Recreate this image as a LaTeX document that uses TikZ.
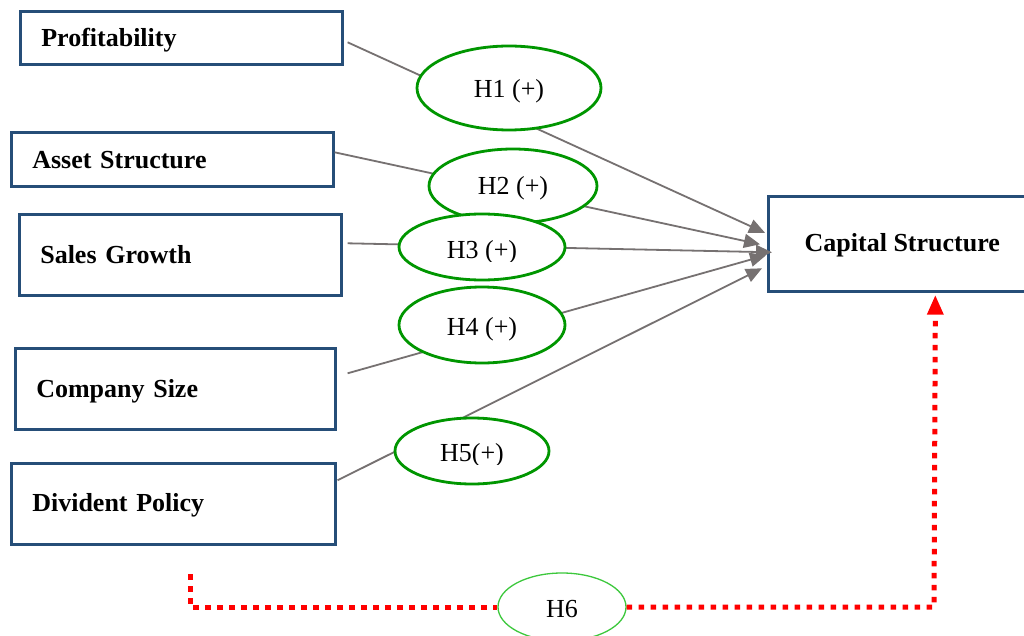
\documentclass[tikz,border=0pt]{standalone}
\usepackage{fontspec}
\setmainfont{Liberation Serif}
\usetikzlibrary{shapes.geometric,arrows.meta,calc}
\definecolor{boxblue}{RGB}{38,78,120}
\definecolor{hypgreen}{RGB}{0,150,0}
\definecolor{lightgreen}{RGB}{60,200,60}
\definecolor{linegray}{RGB}{118,113,113}
\newcommand{\lowerby}[2]{\raisebox{-#1}[\height][\depth]{#2}}
\tikzset{
  varbox/.style={draw=boxblue, line width=2.6pt, align=left, inner xsep=21pt, inner ysep=0pt,
    anchor=north west, font=\fontsize{26}{30}\selectfont\bfseries},
  hyp/.style={ellipse, draw=hypgreen, line width=2.8pt, fill=white, inner sep=0pt,
    font=\fontsize{26}{30}\selectfont},
  hyptext/.style={inner sep=0pt, font=\fontsize{26}{30}\selectfont},
  hypsix/.style={ellipse, draw=lightgreen, line width=1.3pt, fill=white, inner sep=0pt,
    font=\fontsize{26}{30}\selectfont},
  link/.style={draw=linegray, line width=1.8pt, -{Triangle[length=16pt,width=14pt]}, color=linegray},
  redlink/.style={draw=red, line width=5pt, dash pattern=on 5.5pt off 6.5pt, line cap=butt}
}
\begin{document}
\begin{tikzpicture}[x=1pt,y=-1pt]
\clip (0,0) rectangle (1024,636);
\fill[white] (0,0) rectangle (1024,636);
% variable boxes
\node[varbox, text width=280pt, minimum height=53pt] (prof) at (19,10) {\lowerby{2.5pt}{Profitability}};
\node[varbox, text width=280pt, minimum height=54pt] (asset) at (10,131) {\lowerby{1pt}{Asset Structure}};
\node[varbox, text width=280pt, minimum height=81pt] (sales) at (18,213) {Sales Growth};
\node[varbox, text width=278pt, minimum height=81pt] (comp) at (14,347) {\lowerby{2.5pt}{Company Size}};
\node[varbox, text width=282pt, minimum height=81pt] (div) at (10,462) {\lowerby{1.5pt}{Divident Policy}};
\node[varbox, align=center, inner xsep=0pt, minimum width=268pt, minimum height=95pt] (cap) at (767,195) {\lowerby{1.5pt}{Capital Structure}};
% connector ends
\coordinate (s1) at ($(prof.east)+(4,4.5)$);
\coordinate (s2) at ($(asset.east)+(0,-7)$);
\coordinate (s3) at ($(sales.east)+(5,-11.5)$);
\coordinate (s4) at ($(comp.east)+(11,-15.5)$);
\coordinate (s5) at ($(div.east)+(1,-23.5)$);
\coordinate (t1) at ($(cap.west)+(-2,-11)$);
\coordinate (t2) at ($(cap.west)+(-7,0.5)$);
\coordinate (t3) at ($(cap.west)+(5,8.5)$);
\coordinate (t4) at ($(cap.west)+(-1,11.5)$);
\coordinate (t5) at ($(cap.west)+(-5,24.5)$);
\draw[link] (s1) -- (t1);
\draw[link] (s2) -- (t2);
\draw[link] (s3) -- (t3);
\draw[link] (s4) -- (t4);
\draw[link] (s5) -- (t5);
% hypotheses
\node[hyp, minimum width=184pt, minimum height=84pt] (h1) at (509,88) {\lowerby{3pt}{H1 (+)}};
\node[hyp, minimum width=168pt, minimum height=74pt] (h2) at (513,186) {\lowerby{2pt}{H2 (+)}};
\node[hyp, minimum width=166pt, minimum height=66pt] (h3) at (482,247) {};
\node[hyp, minimum width=166pt, minimum height=76pt] (h4) at (482,325) {\lowerby{4pt}{H4 (+)}};
\node[hyp, minimum width=154pt, minimum height=66pt] (h5) at (472,451) {};
\begin{scope}
\clip ($(h3.center)+(-80,-30)$) rectangle ($(h3.center)+(80,14)$);
\node[hyptext] (h3t) at ($(h3.center)+(0,5)$) {H3 (+)};
\end{scope}
\begin{scope}
\clip ($(h5.center)+(-75,-30)$) rectangle ($(h5.center)+(75,13)$);
\node[hyptext] (h5t) at ($(h5.center)+(0,4)$) {H5(+)};
\end{scope}
\node[hypsix, minimum width=128pt, minimum height=68pt] (h6) at (562,607) {\lowerby{2pt}{H6}};
% moderating path
\coordinate (r0) at (190,574);
\coordinate (r1) at (190,607);
\coordinate (r2) at (934,607);
\coordinate (r3) at ($(cap.south)+(33,3)$);
\draw[redlink] (r0) -- (r1) -- (h6.west);
\draw[redlink] (h6.east) -- (r2) -- ($(r3)+(0,19)$);
\fill[red] (r3) -- ($(r3)+(-8.5,19)$) -- ($(r3)+(8.5,19)$) -- cycle;
\end{tikzpicture}
\end{document}
